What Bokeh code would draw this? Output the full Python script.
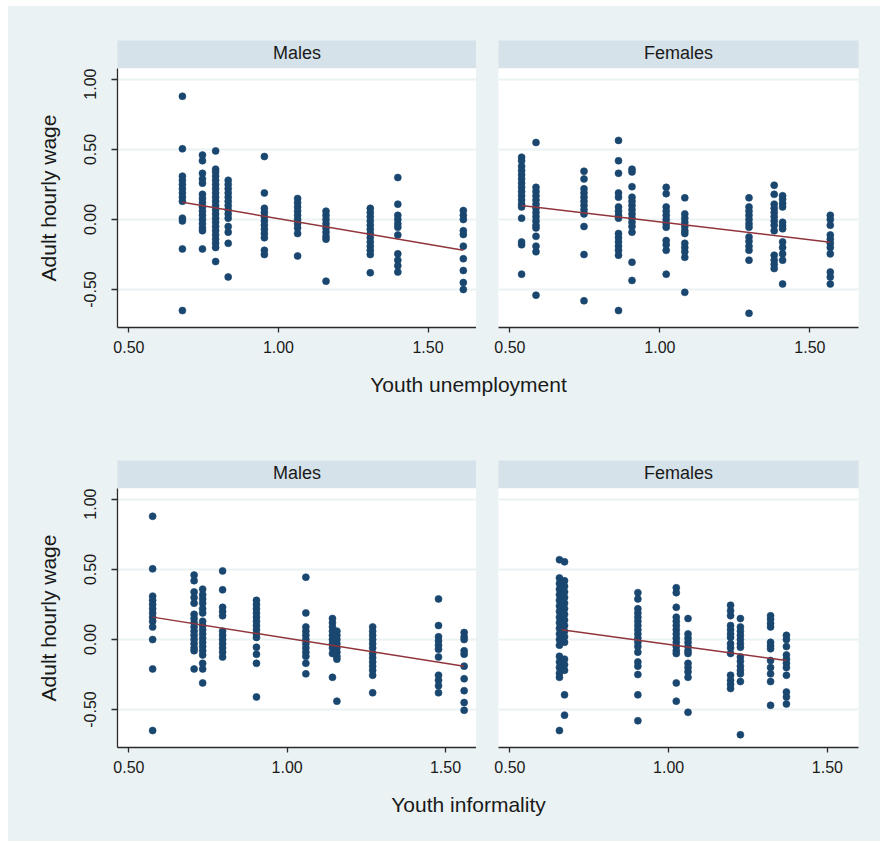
from bokeh.plotting import figure
from bokeh.layouts import column, row
from bokeh.models import Range1d, FixedTicker, NumeralTickFormatter, Grid
from bokeh.embed import file_html
from bokeh.resources import INLINE
from bokeh.core.properties import value

# ---------------- data ----------------
panel_titles = ["Males", "Females"]
x_titles = ["Youth unemployment", "Youth informality"]
y_title = "Adult hourly wage"
x_ticks = [0.5, 1.0, 1.5]
y_ticks = [-0.5, 0.0, 0.5, 1.0]

# Males vs youth unemployment
mu_x = [0.679, 0.746, 0.79, 0.832, 0.953, 1.064, 1.159, 1.307, 1.399, 1.618]
mu_y = [
    [0.88, 0.505, 0.31, 0.28, 0.25, 0.22, 0.19, 0.16, 0.13, 0.01, -0.01, -0.21, -0.65],
    [0.46, 0.42, 0.33, 0.29, 0.26, 0.18, 0.15, 0.12, 0.09, 0.06, 0.03, 0.0, -0.03, -0.06, -0.08, -0.21],
    [0.49, 0.36, 0.34, 0.31, 0.28, 0.25, 0.22, 0.19, 0.16, 0.13, 0.10, 0.07, 0.04, 0.01, -0.02, -0.05, -0.08, -0.11, -0.14, -0.17, -0.20, -0.30],
    [0.28, 0.25, 0.22, 0.19, 0.16, 0.13, 0.10, 0.07, 0.04, 0.01, -0.05, -0.09, -0.17, -0.41],
    [0.45, 0.19, 0.08, 0.05, 0.02, -0.01, -0.04, -0.07, -0.10, -0.13, -0.22, -0.25],
    [0.15, 0.12, 0.09, 0.06, 0.03, 0.0, -0.03, -0.06, -0.10, -0.26],
    [0.06, 0.03, 0.0, -0.03, -0.06, -0.09, -0.12, -0.14, -0.44],
    [0.08, 0.05, 0.02, -0.01, -0.04, -0.07, -0.10, -0.13, -0.16, -0.19, -0.22, -0.25, -0.38],
    [0.30, 0.11, 0.03, 0.0, -0.03, -0.055, -0.11, -0.245, -0.29, -0.33, -0.375],
    [0.064, 0.03, 0.0, -0.08, -0.107, -0.19, -0.28, -0.364, -0.45, -0.50],
]
mu_fit_x = [0.679, 1.618]
mu_fit_y = [0.124, -0.22]

# Females vs youth unemployment
fu_x = [0.539, 0.587, 0.747, 0.862, 0.907, 1.021, 1.083, 1.297, 1.381, 1.409, 1.568]
fu_y = [
    [0.445, 0.42, 0.38, 0.35, 0.32, 0.29, 0.26, 0.23, 0.20, 0.17, 0.14, 0.11, 0.09, 0.01, -0.16, -0.18, -0.39],
    [0.55, 0.23, 0.20, 0.17, 0.14, 0.11, 0.08, 0.05, 0.02, -0.01, -0.04, -0.06, -0.12, -0.19, -0.23, -0.54],
    [0.345, 0.29, 0.22, 0.19, 0.16, 0.13, 0.10, 0.07, 0.04, -0.05, -0.25, -0.58],
    [0.565, 0.42, 0.33, 0.19, 0.16, 0.09, 0.06, 0.03, 0.01, -0.10, -0.13, -0.16, -0.19, -0.22, -0.255, -0.65],
    [0.36, 0.34, 0.235, 0.16, 0.13, 0.10, 0.07, 0.04, 0.01, -0.02, -0.05, -0.09, -0.305, -0.435],
    [0.23, 0.185, 0.09, 0.06, 0.03, 0.0, -0.03, -0.055, -0.15, -0.18, -0.22, -0.39],
    [0.155, 0.04, 0.01, -0.02, -0.05, -0.08, -0.10, -0.17, -0.20, -0.23, -0.27, -0.52],
    [0.155, 0.09, 0.06, 0.03, 0.0, -0.03, -0.055, -0.125, -0.155, -0.19, -0.22, -0.29, -0.67],
    [0.245, 0.18, 0.11, 0.08, 0.05, 0.02, -0.01, -0.04, -0.08, -0.255, -0.29, -0.32, -0.35],
    [0.17, 0.145, 0.115, 0.09, -0.02, -0.045, -0.066, -0.16, -0.20, -0.245, -0.29, -0.46],
    [0.03, 0.0, -0.04, -0.11, -0.14, -0.17, -0.20, -0.245, -0.375, -0.41, -0.46],
]
fu_fit_x = [0.539, 1.568]
fu_fit_y = [0.10, -0.162]

# Males vs youth informality
mi_x = [0.575, 0.706, 0.733, 0.796, 0.903, 1.059, 1.143, 1.157, 1.27, 1.478, 1.559]
mi_y = [
    [0.88, 0.505, 0.31, 0.28, 0.25, 0.22, 0.19, 0.16, 0.13, 0.09, 0.0, -0.21, -0.65],
    [0.46, 0.42, 0.34, 0.30, 0.26, 0.18, 0.15, 0.12, 0.09, 0.06, 0.03, 0.0, -0.03, -0.06, -0.08, -0.21],
    [0.36, 0.32, 0.29, 0.26, 0.22, 0.19, 0.13, 0.10, 0.07, 0.04, 0.01, -0.02, -0.05, -0.08, -0.11, -0.17, -0.21, -0.31],
    [0.49, 0.355, 0.23, 0.20, 0.17, 0.06, 0.03, 0.0, -0.03, -0.06, -0.09, -0.125],
    [0.28, 0.25, 0.22, 0.19, 0.16, 0.13, 0.10, 0.07, 0.04, 0.015, -0.055, -0.105, -0.17, -0.41],
    [0.445, 0.19, 0.09, 0.06, 0.03, 0.0, -0.03, -0.06, -0.09, -0.12, -0.17, -0.245],
    [0.15, 0.12, 0.09, 0.06, 0.03, 0.0, -0.03, -0.06, -0.10, -0.27],
    [0.06, 0.03, 0.0, -0.03, -0.06, -0.09, -0.12, -0.14, -0.44],
    [0.09, 0.06, 0.03, 0.0, -0.03, -0.06, -0.10, -0.13, -0.16, -0.19, -0.22, -0.255, -0.38],
    [0.29, 0.10, 0.02, -0.01, -0.04, -0.07, -0.125, -0.255, -0.29, -0.33, -0.38],
    [0.05, 0.02, 0.0, -0.08, -0.105, -0.19, -0.28, -0.365, -0.45, -0.505],
]
mi_fit_x = [0.575, 1.559]
mi_fit_y = [0.16, -0.19]

# Females vs youth informality
fi_x = [0.656, 0.672, 0.903, 1.024, 1.061, 1.195, 1.226, 1.321, 1.371]
fi_y = [
    [0.57, 0.44, 0.40, 0.36, 0.32, 0.28, 0.24, 0.20, 0.16, 0.12, 0.08, 0.04, 0.0, -0.04, -0.12, -0.16, -0.20, -0.24, -0.27, -0.65],
    [0.555, 0.42, 0.38, 0.34, 0.30, 0.26, 0.22, 0.18, 0.14, 0.10, 0.06, 0.02, -0.02, -0.14, -0.18, -0.22, -0.395, -0.54],
    [0.335, 0.29, 0.22, 0.19, 0.16, 0.13, 0.10, 0.07, 0.04, 0.01, -0.02, -0.05, -0.09, -0.16, -0.19, -0.25, -0.395, -0.58],
    [0.37, 0.335, 0.23, 0.16, 0.13, 0.10, 0.07, 0.04, 0.01, -0.02, -0.05, -0.08, -0.10, -0.31, -0.44],
    [0.15, 0.04, 0.01, -0.02, -0.05, -0.08, -0.10, -0.17, -0.20, -0.23, -0.27, -0.52],
    [0.245, 0.205, 0.17, 0.10, 0.07, 0.04, 0.015, -0.03, -0.06, -0.10, -0.255, -0.29, -0.32, -0.35],
    [0.15, 0.09, 0.06, 0.03, 0.0, -0.03, -0.055, -0.125, -0.155, -0.19, -0.22, -0.245, -0.30, -0.68],
    [0.17, 0.145, 0.115, 0.09, -0.02, -0.045, -0.066, -0.15, -0.20, -0.245, -0.30, -0.47],
    [0.03, 0.0, -0.05, -0.11, -0.14, -0.17, -0.20, -0.255, -0.375, -0.41, -0.46],
]
fi_fit_x = [0.663, 1.371]
fi_fit_y = [0.07, -0.15]

top_xrange = (0.462, 1.662)
bot_xrange = (0.464, 1.598)
y_range = (-0.771, 1.0786)

# ---------------- style ----------------
BG = "#eaf2f3"
STRIP = "#d6e2e9"
NAVY = "#1a476f"
MAROON = "#90353b"
GRIDC = "#eaf2f3"
AXC = "#2b2b2b"
TXT = "#1a1a1a"
FONT = "Liberation Sans"

M_W, M_LEFT = 468, 109
F_LEFT, F_RIGHT = 22, 22
F_W = F_LEFT + 360 + F_RIGHT
TOTAL_W = M_W + F_W
PANEL_H, PANEL_BOTTOM = 299, 40


def expand(xcols, ycols):
    px, py = [], []
    for x, col in zip(xcols, ycols):
        px.extend([x] * len(col))
        py.extend(col)
    return px, py


def panel(xcols, ycols, fx, fy, xr, show_y):
    if show_y:
        w, left, right = M_W, M_LEFT, 0
    else:
        w, left, right = F_W, F_LEFT, F_RIGHT
    p = figure(width=w, height=PANEL_H, x_range=Range1d(*xr), y_range=Range1d(*y_range),
               output_backend="svg", toolbar_location=None,
               y_axis_location="left" if show_y else None,
               min_border_left=left, min_border_right=right, min_border_top=0,
               min_border_bottom=PANEL_BOTTOM,
               background_fill_color="white", border_fill_color=BG,
               outline_line_color=None)
    p.xgrid.visible = False
    p.ygrid.visible = False
    p.add_layout(Grid(dimension=1, ticker=FixedTicker(ticks=y_ticks),
                      grid_line_color=GRIDC, grid_line_width=2), "center")
    xa = p.xaxis[0]
    xa.ticker = FixedTicker(ticks=x_ticks)
    xa.formatter = NumeralTickFormatter(format="0.00")
    xa.major_tick_out = 5
    xa.major_tick_in = 0
    xa.minor_tick_out = 0
    xa.minor_tick_in = 0
    xa.axis_line_color = AXC
    xa.axis_line_width = 1.3
    xa.major_tick_line_color = AXC
    xa.major_tick_line_width = 1.3
    xa.major_label_text_font = FONT
    xa.major_label_text_font_size = "16px"
    xa.major_label_text_color = TXT
    xa.major_label_standoff = 8
    if show_y:
        ya = p.yaxis[0]
        ya.ticker = FixedTicker(ticks=y_ticks)
        ya.formatter = NumeralTickFormatter(format="0.00")
        ya.major_label_orientation = "vertical"
        ya.major_tick_out = 6
        ya.major_tick_in = 0
        ya.minor_tick_out = 0
        ya.minor_tick_in = 0
        ya.axis_line_color = AXC
        ya.axis_line_width = 1.3
        ya.major_tick_line_color = AXC
        ya.major_tick_line_width = 1.3
        ya.major_label_text_font = FONT
        ya.major_label_text_font_size = "16px"
        ya.major_label_text_color = TXT
        ya.major_label_standoff = 15
        ya.axis_label = y_title
        ya.axis_label_text_font = FONT
        ya.axis_label_text_font_style = "normal"
        ya.axis_label_text_font_size = "21px"
        ya.axis_label_text_color = TXT
        ya.axis_label_standoff = 22
    px, py = expand(xcols, ycols)
    p.scatter(px, py, size=7, marker="circle", fill_color=NAVY, line_color=NAVY, line_width=0.6)
    p.line(fx, fy, line_color=MAROON, line_width=1.5)
    return p


def strip(label, show_y):
    if show_y:
        w, left, right = M_W, M_LEFT, 0
    else:
        w, left, right = F_W, F_LEFT, F_RIGHT
    s = figure(width=w, height=28, x_range=Range1d(0, 1), y_range=Range1d(0, 1),
               x_axis_location=None, y_axis_location=None,
               output_backend="svg", toolbar_location=None,
               min_border_left=left, min_border_right=right, min_border_top=0, min_border_bottom=0,
               background_fill_color=STRIP, border_fill_color=BG, outline_line_color=None)
    s.grid.visible = False
    s.text(x=[0.5], y=[0.57], text=[label], text_align="center", text_baseline="middle",
           text_font=value(FONT), text_font_size="18px", text_color=TXT)
    return s


def band(height, label=None, offset=17):
    b = figure(width=TOTAL_W, height=height, x_range=Range1d(0, TOTAL_W), y_range=Range1d(height, 0),
               x_axis_location=None, y_axis_location=None,
               output_backend="svg", toolbar_location=None,
               min_border_left=0, min_border_right=0, min_border_top=0, min_border_bottom=0,
               background_fill_color=BG, border_fill_color=BG, outline_line_color=None)
    b.grid.visible = False
    if label:
        b.text(x=[460], y=[offset], text=[label], text_align="center", text_baseline="middle",
               text_font=value(FONT), text_font_size="21px", text_color=TXT)
    return b


bgstyle = {"background-color": BG}
layout = column(
    band(34),
    row(strip(panel_titles[0], True), strip(panel_titles[1], False), spacing=0, styles=bgstyle),
    row(panel(mu_x, mu_y, mu_fit_x, mu_fit_y, top_xrange, True),
        panel(fu_x, fu_y, fu_fit_x, fu_fit_y, top_xrange, False), spacing=0, styles=bgstyle),
    band(93, x_titles[0]),
    row(strip(panel_titles[0], True), strip(panel_titles[1], False), spacing=0, styles=bgstyle),
    row(panel(mi_x, mi_y, mi_fit_x, mi_fit_y, bot_xrange, True),
        panel(fi_x, fi_y, fi_fit_x, fi_fit_y, bot_xrange, False), spacing=0, styles=bgstyle),
    band(54, x_titles[1]),
    spacing=0,
    styles=bgstyle,
    margin=(6, 0, 0, 8),
)

open("out.html", "w").write(file_html(layout, INLINE))
